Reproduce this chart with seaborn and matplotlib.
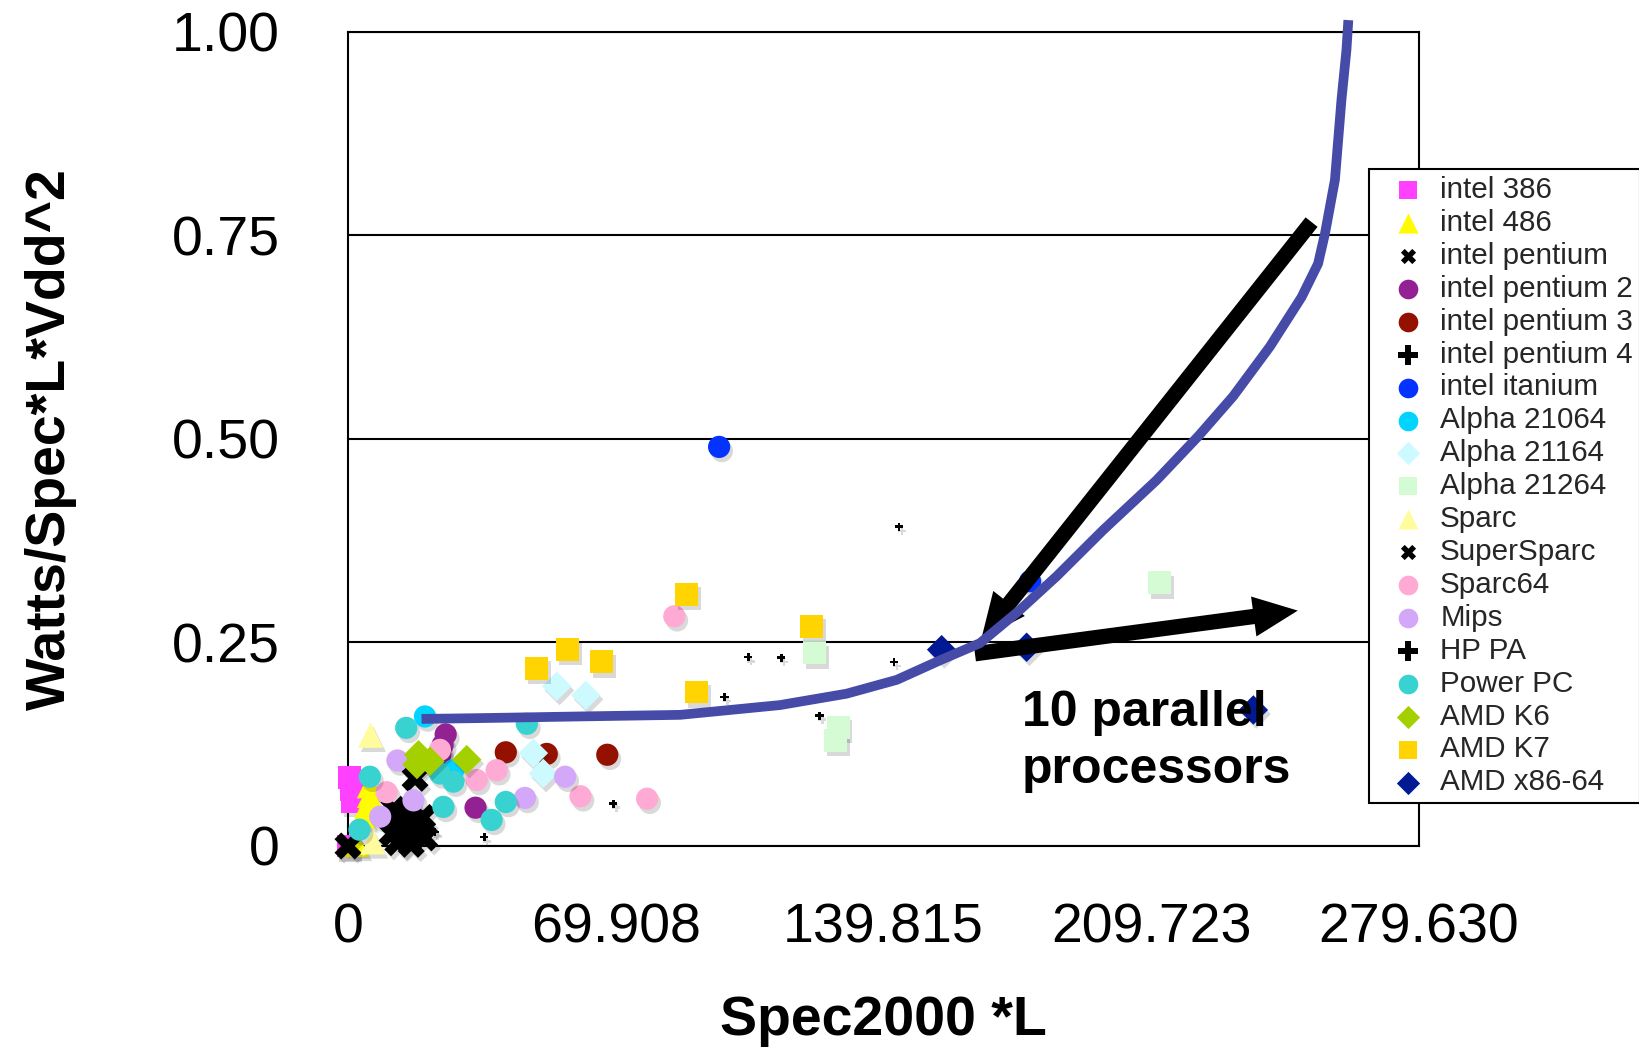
import matplotlib
matplotlib.use("Agg")
import matplotlib.pyplot as plt
import matplotlib.patheffects as pe
from matplotlib.patches import FancyArrowPatch, ArrowStyle
import seaborn as sns
import pandas as pd

# ---------------- data ----------------
series_names = ["intel 386", "intel 486", "intel pentium", "intel pentium 2",
                "intel pentium 3", "intel pentium 4", "intel itanium",
                "Alpha 21064", "Alpha 21164", "Alpha 21264", "Sparc",
                "SuperSparc", "Sparc64", "Mips", "HP PA", "Power PC",
                "AMD K6", "AMD K7", "AMD x86-64"]

intel386_x = [0.5, 1.0, 1.2, 0.0]
intel386_y = [0.084, 0.069, 0.055, 0.0]
intel486_x = [5.6, 5.6, 4.9, 4.0, 2.3]
intel486_y = [0.074, 0.062, 0.049, 0.037, 0.002]
pentium_x = [17.5, 12.0, 16.0, 19.5, 13.5, 0.0]
pentium_y = [0.083, 0.045, 0.040, 0.035, 0.025, 0.0]
pentium2_x = [25.5, 24.7, 24.1, 33.3]
pentium2_y = [0.137, 0.124, 0.112, 0.047]
pentium3_x = [41.2, 51.9, 67.7]
pentium3_y = [0.115, 0.113, 0.112]
pentium4_x = [104.5, 113.1, 142.6, 143.9, 98.3, 170.7]
pentium4_y = [0.232, 0.231, 0.226, 0.392, 0.183, 0.284]
itanium_x = [96.9, 178.1]
itanium_y = [0.490, 0.325]
alpha21064_x = [20.1, 27.5]
alpha21064_y = [0.159, 0.093]
alpha21164_x = [54.5, 62.1, 48.4, 51.0]
alpha21164_y = [0.196, 0.185, 0.114, 0.089]
alpha21264_x = [121.8, 128.0, 127.4, 212.0]
alpha21264_y = [0.237, 0.146, 0.130, 0.323]
sparc_x = [5.9, 6.5]
sparc_y = [0.136, 0.005]
supersparc_x = [11.5, 15.0, 18.5, 13.0, 16.5, 20.0, 14.0, 17.5]
supersparc_y = [0.015, 0.018, 0.020, 0.004, 0.002, 0.010, 0.035, 0.028]
sparc64_x = [33.6, 38.8, 60.7, 78.1, 10.1, 85.2, 24.0]
sparc64_y = [0.081, 0.093, 0.061, 0.058, 0.066, 0.282, 0.118]
mips_x = [12.9, 56.7, 46.2, 17.1, 8.4]
mips_y = [0.105, 0.085, 0.059, 0.056, 0.036]
hppa_x = [22.7, 35.6, 37.3, 69.3, 123.1]
hppa_y = [0.017, 0.011, 0.041, 0.052, 0.160]
powerpc_x = [15.2, 5.7, 27.5, 24.9, 41.2, 37.5, 46.7, 24.0, 3.0]
powerpc_y = [0.145, 0.085, 0.079, 0.048, 0.054, 0.032, 0.150, 0.089, 0.020]
amdk6_x = [18.4, 21.4, 31.0, 18.0]
amdk6_y = [0.112, 0.104, 0.106, 0.100]
amdk7_x = [49.3, 57.3, 66.2, 88.4, 121.1, 91.0]
amdk7_y = [0.218, 0.241, 0.226, 0.309, 0.270, 0.189]
amdx64_x = [155.0, 177.2, 236.4]
amdx64_y = [0.241, 0.244, 0.167]

curve_x = [19.2, 34.5, 60.0, 86.7, 112.8, 130.2, 143.3, 154.6, 165.0, 175.0,
           185.0, 197.2, 211.1, 222.0, 231.1, 240.7, 249.0, 253.3, 255.1, 257.7,
           259.4, 260.7, 261.2]
curve_y = [0.156, 0.157, 0.159, 0.161, 0.173, 0.187, 0.204, 0.228, 0.249, 0.288,
           0.331, 0.388, 0.449, 0.503, 0.552, 0.613, 0.674, 0.715, 0.752, 0.818,
           0.916, 0.977, 1.014]

x_ticks = [0, 69.908, 139.815, 209.723, 279.630]
x_tick_labels = ["0", "69.908", "139.815", "209.723", "279.630"]
y_ticks = [0, 0.25, 0.50, 0.75, 1.00]
y_tick_labels = ["0", "0.25", "0.50", "0.75", "1.00"]

annotation_text = "10 parallel\nprocessors"

# ---------------- styles ----------------
series_xy = [(intel386_x, intel386_y), (intel486_x, intel486_y), (pentium_x, pentium_y),
             (pentium2_x, pentium2_y), (pentium3_x, pentium3_y), (pentium4_x, pentium4_y),
             (itanium_x, itanium_y), (alpha21064_x, alpha21064_y), (alpha21164_x, alpha21164_y),
             (alpha21264_x, alpha21264_y), (sparc_x, sparc_y), (supersparc_x, supersparc_y),
             (sparc64_x, sparc64_y), (mips_x, mips_y), (hppa_x, hppa_y),
             (powerpc_x, powerpc_y), (amdk6_x, amdk6_y), (amdk7_x, amdk7_y), (amdx64_x, amdx64_y)]
colors = ["#FF40FF", "#FFFB00", "#000000", "#942193", "#941100", "#000000", "#0433FF",
          "#00D4FF", "#CCFAFF", "#D4FBD4", "#FFFC9E", "#000000", "#FFAAD4", "#D4A8F8",
          "#000000", "#38D2D0", "#A5D000", "#FFD400", "#011993"]
markers = ["s", "^", "X", "o", "o", "P", "o", "o", "D", "s", "^", "X", "o", "o", "P",
           "o", "D", "s", "D"]
plot_sizes = {"s": 272, "^": 330, "X": 380, "o": 256, "P": 34, "D": 225}
legend_sizes = {"s": 185, "^": 210, "X": 120, "o": 200, "P": 190, "D": 140}

sns.set_style("white")
plt.rcParams["font.family"] = ["Liberation Sans", "DejaVu Sans"]

fig = plt.figure(figsize=(16.4, 10.47), dpi=100)
ax = fig.add_axes([0.2122, 0.1920, 0.6530, 0.7779])

shadow = [pe.SimplePatchShadow(offset=(2, -3), shadow_rgbFace="black", alpha=0.15), pe.Normal()]

handles = []
for name, (xs, ys), col, mk in zip(series_names, series_xy, colors, markers):
    df = pd.DataFrame({"x": xs, "y": ys})
    n_before = len(ax.collections)
    sns.scatterplot(data=df, x="x", y="y", ax=ax, color=col, marker=mk,
                    s=plot_sizes[mk], linewidth=0, label=name, clip_on=False,
                    zorder=3, legend=False)
    coll = ax.collections[n_before]
    coll.set_path_effects(shadow)
    handles.append(coll)

# fitted curve
sns.lineplot(x=curve_x, y=curve_y, ax=ax, color="#464BA8", linewidth=7,
             sort=False, estimator=None, zorder=6, clip_on=False, legend=False)
ax.lines[-1].set_solid_capstyle("butt")
ax.lines[-1].set_solid_joinstyle("round")

# arrows
style = ArrowStyle.Simple(head_length=32, head_width=29, tail_width=11)
arr1 = FancyArrowPatch((251.6, 0.766), (165.4, 0.255), arrowstyle=style,
                       mutation_scale=1, color="black", shrinkA=0, shrinkB=0,
                       zorder=5, clip_on=False, linewidth=0)
arr2 = FancyArrowPatch((163.7, 0.236), (248.0, 0.289), arrowstyle=style,
                       mutation_scale=1, color="black", shrinkA=0, shrinkB=0,
                       zorder=5, clip_on=False, linewidth=0)
ax.add_patch(arr1)
ax.add_patch(arr2)

ax.text(176.0, 0.192, annotation_text, fontsize=36, fontweight="bold",
        ha="left", va="top", zorder=4, color="black", linespacing=1.31)

# axes
ax.set_xlim(0, 279.63)
ax.set_ylim(0, 1.0)
ax.set_xticks(x_ticks)
ax.set_xticklabels(x_tick_labels)
ax.set_yticks(y_ticks)
ax.set_yticklabels(y_tick_labels)
ax.tick_params(axis="x", direction="out", length=3.6, width=1.5, pad=37,
               labelsize=40, colors="black")
ax.tick_params(axis="y", length=0, pad=49, labelsize=40, colors="black")
ax.set_axisbelow(True)
ax.yaxis.grid(True, color="black", linewidth=1.5)
ax.xaxis.grid(False)
for sp in ax.spines.values():
    sp.set_visible(True)
    sp.set_color("black")
    sp.set_linewidth(1.5)

ax.set_xlabel("Spec2000 *L", fontsize=40, fontweight="bold", color="black")
ax.xaxis.set_label_coords(0.5, -0.183)
ax.set_ylabel("Watts/Spec*L*Vdd^2", fontsize=40, fontweight="bold", color="black")
ax.yaxis.set_label_coords(-0.253, 0.5)

leg = ax.legend(handles=handles, labels=series_names, loc="upper left",
                bbox_to_anchor=(1369 / 1640, 1 - 169 / 1047),
                bbox_transform=fig.transFigure, frameon=True, fancybox=False,
                edgecolor="black", framealpha=1, fontsize=21.3, borderpad=0.235,
                handlelength=2.17, handletextpad=0.0, labelspacing=0.166,
                borderaxespad=0, scatterpoints=1)
leg.get_frame().set_linewidth(1.5)
leg.set_zorder(10)
for h, mk in zip(leg.legend_handles, markers):
    h.set_sizes([legend_sizes[mk]])
    h.set_path_effects([])

fig.savefig("out.png", dpi=100)
